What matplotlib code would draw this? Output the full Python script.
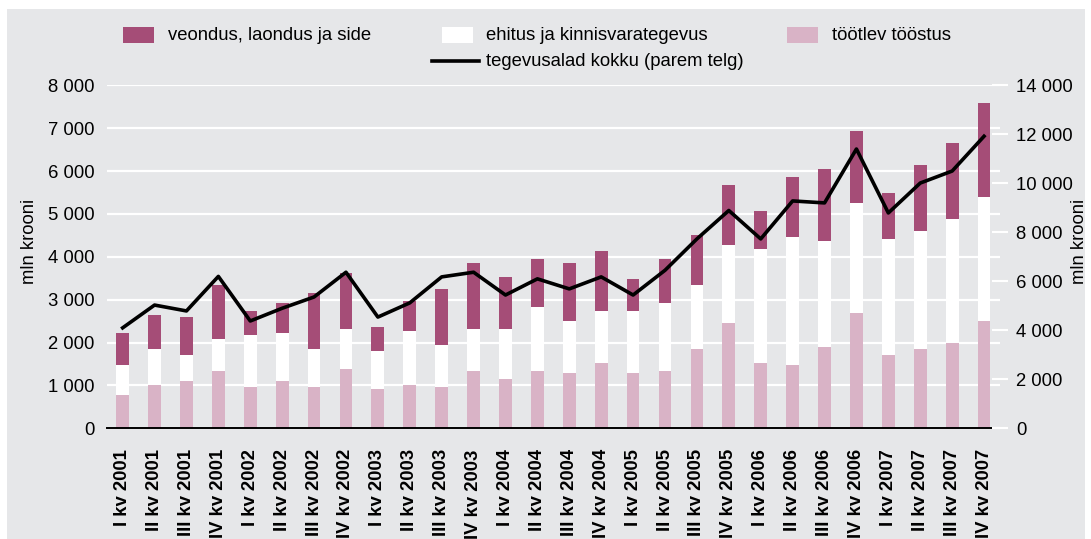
import numpy as np
import matplotlib
matplotlib.use("Agg")
import matplotlib.pyplot as plt
from matplotlib.patches import Rectangle
from matplotlib.lines import Line2D
from matplotlib.ticker import FuncFormatter

plt.rcParams['font.family'] = ['Liberation Sans', 'DejaVu Sans']
FS = 13.3

# ===== DATA (mln krooni) =====
quarters = ["I kv 2001", "II kv 2001", "III kv 2001", "IV kv 2001",
            "I kv 2002", "II kv 2002", "III kv 2002", "IV kv 2002",
            "I kv 2003", "II kv 2003", "III kv 2003", "IV kv 2003",
            "I kv 2004", "II kv 2004", "III kv 2004", "IV kv 2004",
            "I kv 2005", "II kv 2005", "III kv 2005", "IV kv 2005",
            "I kv 2006", "II kv 2006", "III kv 2006", "IV kv 2006",
            "I kv 2007", "II kv 2007", "III kv 2007", "IV kv 2007"]
tootlev = [780, 1010, 1100, 1340, 960, 1100, 960, 1380, 920, 1010, 960, 1340, 1150, 1340,
           1290, 1520, 1290, 1340, 1850, 2460, 1520, 1480, 1900, 2690, 1710, 1850, 1990, 2500]
ehitus = [700, 840, 610, 740, 1220, 1120, 890, 940, 880, 1260, 980, 980, 1170, 1490,
          1210, 1220, 1450, 1580, 1490, 1820, 2660, 2980, 2470, 2570, 2710, 2750, 2890, 2900]
veondus = [740, 790, 890, 1260, 560, 700, 1310, 1300, 560, 700, 1310, 1540, 1210, 1120,
           1360, 1400, 740, 1030, 1170, 1400, 890, 1400, 1680, 1680, 1070, 1540, 1780, 2190]
kokku = [4100, 5030, 4790, 6200, 4380, 4900, 5360, 6370, 4540, 5120, 6180, 6370, 5440, 6100,
         5690, 6180, 5440, 6450, 7730, 8890, 7730, 9280, 9200, 11400, 8790, 10010, 10500, 11920]

labels = ["veondus, laondus ja side", "ehitus ja kinnisvarategevus", "töötlev tööstus",
          "tegevusalad kokku (parem telg)"]

# ===== STYLE =====
BG = '#E6E7E9'
C_VEO = '#A54D77'
C_EHI = '#FFFFFF'
C_TOO = '#D9B3C6'

W, H = 1091, 539
fig = plt.figure(figsize=(W / 100, H / 100), dpi=100, facecolor='white')
fig.patches.append(Rectangle((7 / W, 0), (1085 - 7) / W, (H - 9) / H,
                             transform=fig.transFigure, facecolor=BG, edgecolor='none', zorder=-10))

ax = fig.add_axes([106.7 / W, (H - 428.3) / H, (1000 - 106.7) / W, 343 / H])
ax.set_facecolor('none')
x = np.arange(len(quarters))
bw = 0.4
too = np.array(tootlev)
ehi = np.array(ehitus)
veo = np.array(veondus)
ax.bar(x, too, bw, color=C_TOO, zorder=2)
ax.bar(x, ehi, bw, bottom=too, color=C_EHI, zorder=2)
ax.bar(x, veo, bw, bottom=too + ehi, color=C_VEO, zorder=2)

ax.set_xlim(-0.5, len(quarters) - 0.5)
ax.set_ylim(0, 8000)
ax.set_yticks(np.arange(0, 8001, 1000))
thou = FuncFormatter(lambda v, p: f"{int(v):,}".replace(",", " "))
ax.yaxis.set_major_formatter(thou)
ax.grid(axis='y', color='white', lw=1.6, zorder=1)
ax.set_axisbelow(True)
for s in ['top', 'left', 'right']:
    ax.spines[s].set_visible(False)
ax.spines['bottom'].set_color('black')
ax.spines['bottom'].set_linewidth(1.4)
ax.spines['bottom'].set_zorder(5)
ax.tick_params(axis='y', length=0, pad=9, labelsize=FS)
ax.set_xticks(x)
ax.set_xticklabels(quarters, rotation=90, fontweight='bold', fontsize=FS, va='top', ha='center')
ax.tick_params(axis='x', length=0, pad=15)

ax2 = ax.twinx()
ax2.plot(x, kokku, color='black', lw=2.6, zorder=5)
ax2.set_ylim(0, 14000)
ax2.set_yticks(np.arange(0, 14001, 2000))
ax2.yaxis.set_major_formatter(thou)
for s in ['top', 'left', 'right', 'bottom']:
    ax2.spines[s].set_visible(False)
ax2.tick_params(axis='y', direction='inout', length=11, width=1.5, color='white',
                pad=6, labelsize=FS)

fig.text(30 / W, 1 - 241 / H, "mln krooni", rotation=90, ha='center', va='center', fontsize=FS)
fig.text(1080 / W, 1 - 241 / H, "mln krooni", rotation=90, ha='center', va='center', fontsize=FS)

# legend, placed by hand
def sq(x0, color):
    fig.patches.append(Rectangle((x0 / W, 1 - 43 / H), 31 / W, 16 / H, transform=fig.transFigure,
                                 facecolor=color, edgecolor='none'))

sq(123, C_VEO)
fig.text(168 / W, 1 - 35.5 / H, labels[0], ha='left', va='center', fontsize=FS)
sq(442, C_EHI)
fig.text(486 / W, 1 - 35.5 / H, labels[1], ha='left', va='center', fontsize=FS)
sq(787, C_TOO)
fig.text(832 / W, 1 - 35.5 / H, labels[2], ha='left', va='center', fontsize=FS)
fig.lines.append(Line2D([432 / W, 479 / W], [1 - 61 / H, 1 - 61 / H], transform=fig.transFigure,
                        color='black', lw=2.6))
fig.text(486 / W, 1 - 62 / H, labels[3], ha='left', va='center', fontsize=FS)

fig.savefig('out.png', dpi=100, facecolor=fig.get_facecolor())
